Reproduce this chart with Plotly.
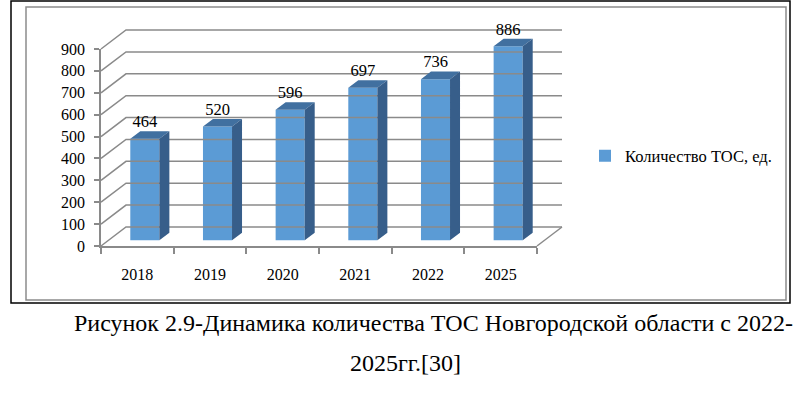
import plotly.graph_objects as go

# ---------------- data ----------------
categories = ["2018", "2019", "2020", "2021", "2022", "2025"]
values = [464, 520, 596, 697, 736, 886]
y_ticks = [0, 100, 200, 300, 400, 500, 600, 700, 800, 900]
series_name = "Количество ТОС, ед."
caption_line1 = "Рисунок 2.9-Динамика количества ТОС Новгородской области с 2022-"
caption_line2 = "2025гг.[30]"

# ---------------- layout calibration (pixels) ----------------
W, H = 800, 394
AX_LEFT_PX, AX_RIGHT_PX = 101, 537
AX_BOTTOM_PX, AX_TOP_PX = 246, 49
Y_MAX = y_ticks[-1]
DEPTH_PX = (25, 19)
F0, F1 = 0.3, 0.7      # bar front/back depth fractions
BW = 0.4               # bar width (category units)

FRONT = "#5B9BD5"
TOP = "#4170A0"
SIDE = "#375E8A"
GRID = "#8A8A8A"
FONT = "Liberation Serif, Times New Roman, serif"

n = len(categories)
ux = (AX_RIGHT_PX - AX_LEFT_PX) / n
uy = (AX_BOTTOM_PX - AX_TOP_PX) / Y_MAX
x_range = [-AX_LEFT_PX / ux, (W - AX_LEFT_PX) / ux]
y_range = [-(H - AX_BOTTOM_PX) / uy, AX_BOTTOM_PX / uy]
DX = DEPTH_PX[0] / ux
DY = DEPTH_PX[1] / uy

fig = go.Figure()

# walls / gridlines computed from tick values
gx, gy = [], []
for t in y_ticks:
    gx += [0, DX, n + DX, None]
    gy += [t, t + DY, t + DY, None]
gx += [n, n + DX, None]
gy += [0, DY, None]
fig.add_trace(go.Scatter(x=gx, y=gy, mode="lines", line=dict(color=GRID, width=1.5),
                         hoverinfo="skip", showlegend=False))

# bars (front faces)
xc = [i + 0.5 + F0 * DX for i in range(n)]
base = F0 * DY
fig.add_trace(go.Bar(x=xc, y=values, base=base, width=BW, name=series_name,
                     marker=dict(color=FRONT, line=dict(width=0)), showlegend=True))

# top and side faces
d = (F1 - F0) * DX
e = (F1 - F0) * DY
tx, ty, sx, sy = [], [], [], []
for c, v in zip(xc, values):
    xl, xrr = c - BW / 2, c + BW / 2
    t = base + v
    tx += [xl, xrr, xrr + d, xl + d, xl, None]
    ty += [t, t, t + e, t + e, t, None]
    sx += [xrr, xrr, xrr + d, xrr + d, xrr, None]
    sy += [base, t, t + e, base + e, base, None]
fig.add_trace(go.Scatter(x=tx, y=ty, mode="lines", fill="toself", fillcolor=TOP,
                         line=dict(width=0, color=TOP), hoverinfo="skip", showlegend=False))
fig.add_trace(go.Scatter(x=sx, y=sy, mode="lines", fill="toself", fillcolor=SIDE,
                         line=dict(width=0, color=SIDE), hoverinfo="skip", showlegend=False))

# data labels
fig.add_trace(go.Scatter(x=xc, y=[base + v + e for v in values], mode="text",
                         text=[str(v) for v in values], textposition="top center",
                         textfont=dict(family=FONT, size=16.5, color="black"),
                         cliponaxis=False, hoverinfo="skip", showlegend=False))

# dummy trace on labelled axes
fig.add_trace(go.Scatter(x=[0], y=[0], xaxis="x2", yaxis="y2", mode="markers",
                         marker=dict(opacity=0), hoverinfo="skip", showlegend=False))

fig.update_layout(
    width=W, height=H, autosize=False,
    margin=dict(l=0, r=0, t=0, b=0, pad=0, autoexpand=False),
    paper_bgcolor="white", plot_bgcolor="rgba(0,0,0,0)",
    font=dict(family=FONT, color="black", size=16),
    xaxis=dict(domain=[0, 1], range=x_range, visible=False, fixedrange=True, automargin=False),
    yaxis=dict(domain=[0, 1], range=y_range, visible=False, fixedrange=True, automargin=False),
    xaxis2=dict(domain=[AX_LEFT_PX / W, AX_RIGHT_PX / W], range=[0, n], anchor="y2",
                showline=True, linecolor=GRID, linewidth=1.5, showgrid=False, zeroline=False,
                tickmode="array", tickvals=[i + 0.5 for i in range(n)], ticktext=categories,
                ticks="", ticklabelstandoff=13, tickfont=dict(family=FONT, size=16, color="black"),
                minor=dict(tickmode="array", tickvals=list(range(n + 1)), ticks="outside",
                           ticklen=6, tickcolor=GRID, tickwidth=1.5, showgrid=False),
                fixedrange=True, automargin=False),
    yaxis2=dict(domain=[1 - AX_BOTTOM_PX / H, 1 - AX_TOP_PX / H], range=[0, Y_MAX], anchor="x2",
                showline=True, linecolor=GRID, linewidth=1.5, showgrid=False, zeroline=False,
                tickmode="array", tickvals=y_ticks, ticks="outside", ticklen=5,
                tickcolor=GRID, tickwidth=1.5, ticklabelstandoff=6,
                tickfont=dict(family=FONT, size=16, color="black"), fixedrange=True,
                automargin=False),
    legend=dict(x=585 / W, y=1 - 156 / H, xanchor="left", yanchor="middle",
                font=dict(family=FONT, size=16.5, color="black"), bgcolor="rgba(0,0,0,0)"),
    shapes=[
        dict(type="rect", xref="paper", yref="paper", x0=11 / W, x1=790 / W,
             y0=1 - 303 / H, y1=1 - 1 / H, line=dict(color="black", width=1.5)),
        dict(type="rect", xref="paper", yref="paper", x0=26 / W, x1=786 / W,
             y0=1 - 300 / H, y1=1 - 7 / H, line=dict(color="#8C8C8C", width=1.5)),
    ],
    annotations=[
        dict(text=caption_line1, xref="paper", yref="paper", x=433 / W, y=1 - 323 / H,
             xanchor="center", yanchor="middle", showarrow=False,
             font=dict(family=FONT, size=24, color="black")),
        dict(text=caption_line2, xref="paper", yref="paper", x=406 / W, y=1 - 363 / H,
             xanchor="center", yanchor="middle", showarrow=False,
             font=dict(family=FONT, size=24, color="black")),
    ],
)

fig.write_html("out.html")
